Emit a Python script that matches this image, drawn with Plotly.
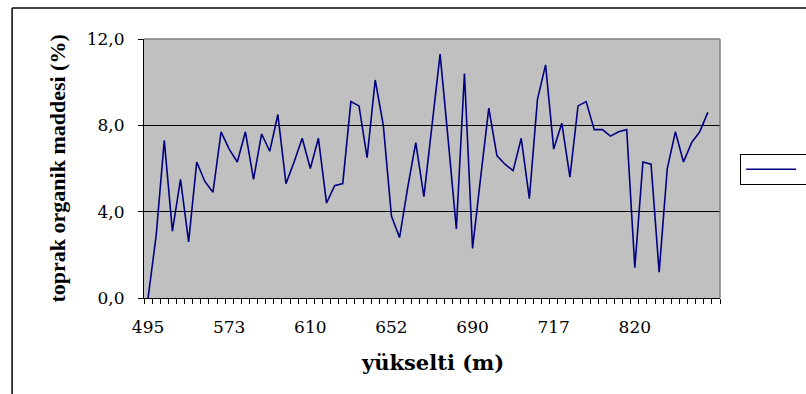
import plotly.graph_objects as go

# Soil organic matter (%) measured along the elevation transect
organic_matter = [
    0.0, 2.9, 7.3, 3.1, 5.5, 2.6, 6.3, 5.4, 4.9, 7.7,
    6.9, 6.3, 7.7, 5.5, 7.6, 6.8, 8.5, 5.3, 6.3, 7.4,
    6.0, 7.4, 4.4, 5.2, 5.3, 9.1, 8.9, 6.5, 10.1, 8.0,
    3.8, 2.8, 5.1, 7.2, 4.7, 7.9, 11.3, 7.3, 3.2, 10.4,
    2.3, 5.6, 8.8, 6.6, 6.2, 5.9, 7.4, 4.6, 9.2, 10.8,
    6.9, 8.1, 5.6, 8.9, 9.1, 7.8, 7.8, 7.5, 7.7, 7.8,
    1.4, 6.3, 6.2, 1.2, 6.0, 7.7, 6.3, 7.2, 7.7, 8.6,
]
sample_index = list(range(len(organic_matter)))
n_categories = 71  # last category on the axis is empty

# elevation labels shown on every tenth category
label_positions = [0, 10, 20, 30, 40, 50, 60]
elevation_labels = ["495", "573", "610", "652", "690", "717", "820"]

y_ticks = [0, 4, 8, 12]

serif = "Liberation Serif, Times New Roman, serif"
wide_serif = "DejaVu Serif, serif"

fig = go.Figure()
fig.add_trace(go.Scatter(
    x=sample_index,
    y=organic_matter,
    mode="lines",
    name="\u00a0" * 30,
    line=dict(color="#000080", width=1.6),
    showlegend=True,
))

fig.update_layout(
    width=806,
    height=394,
    margin=dict(l=144, r=86, t=39, b=96, autoexpand=False),
    paper_bgcolor="white",
    plot_bgcolor="#C0C0C0",
    separators=",.",
    font=dict(family=wide_serif, color="black", size=17),
    showlegend=True,
    legend=dict(
        x=1.035, y=0.557, xanchor="left", yanchor="top",
        bgcolor="white", bordercolor="black", borderwidth=1,
        font=dict(family=serif, size=11, color="black"),
        itemwidth=50,
        tracegroupgap=0,
    ),
    xaxis=dict(
        range=[-0.5, n_categories - 0.5],
        tickmode="array",
        tickvals=label_positions,
        ticktext=elevation_labels,
        ticks="",
        ticklabelstandoff=14,
        showgrid=False,
        zeroline=False,
        showline=True,
        linecolor="black",
        linewidth=1,
        tickfont=dict(family=wide_serif, size=17),
        minor=dict(
            tick0=-0.5, dtick=1, ticks="outside", ticklen=5,
            tickcolor="black", tickwidth=1, showgrid=False,
        ),
    ),
    yaxis=dict(
        range=[0, 12],
        tickmode="array",
        tickvals=y_ticks,
        tickformat=".1f",
        ticks="outside",
        ticklen=5,
        tickcolor="black",
        ticklabelstandoff=10,
        showgrid=True,
        gridcolor="black",
        gridwidth=1,
        zeroline=False,
        showline=True,
        linecolor="black",
        linewidth=1,
        tickfont=dict(family=wide_serif, size=17),
    ),
)

# plot-area frame on the top and right sides
fig.add_shape(type="line", xref="paper", yref="paper", x0=0, x1=1, y0=1, y1=1,
              line=dict(color="#808080", width=1.5), layer="above")
fig.add_shape(type="line", xref="paper", yref="paper", x0=1, x1=1, y0=0, y1=1,
              line=dict(color="#808080", width=1.5), layer="above")

# chart frame (right and bottom edges lie outside the page)
fig.add_shape(type="line", xref="paper", yref="paper",
              x0=-0.229, x1=-0.229, y0=-0.45, y1=1.12,
              line=dict(color="black", width=1.5), layer="above")
fig.add_shape(type="line", xref="paper", yref="paper",
              x0=-0.229, x1=1.2, y0=1.12, y1=1.12,
              line=dict(color="black", width=1.5), layer="above")

# axis titles
fig.add_annotation(
    text="<b>yükselti (m)</b>", xref="paper", yref="paper",
    x=0.5, y=-0.249, xanchor="center", yanchor="middle",
    showarrow=False, font=dict(family=wide_serif, size=21, color="black"),
)
fig.add_annotation(
    text="<b>toprak organik maddesi (%)</b>", xref="paper", yref="paper",
    x=-0.151, y=0.5, xanchor="center", yanchor="middle", textangle=-90,
    showarrow=False, font=dict(family=serif, size=22, color="black"),
)

fig.write_html("out.html", config={"displayModeBar": False})
